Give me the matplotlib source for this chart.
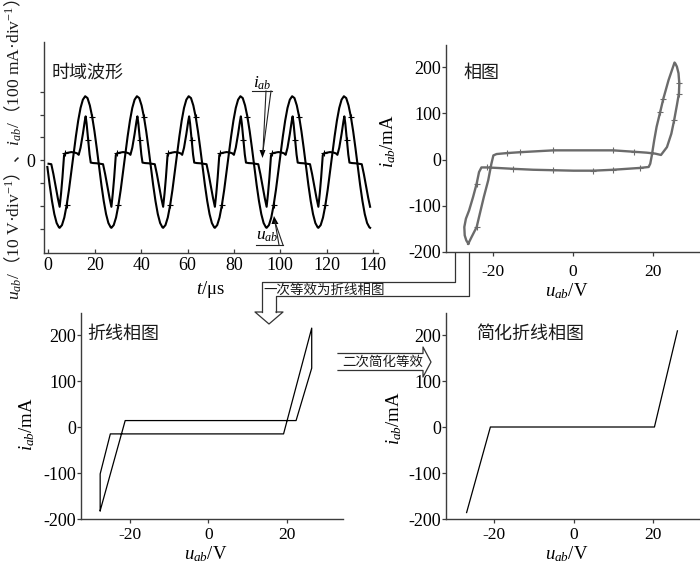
import numpy as np
import matplotlib
matplotlib.use("Agg")
import matplotlib.pyplot as plt

plt.rcParams['font.family'] = ['Liberation Serif', 'Noto Sans CJK SC']
plt.rcParams['mathtext.fontset'] = 'custom'
plt.rcParams['mathtext.rm'] = 'Liberation Serif'
plt.rcParams['mathtext.it'] = 'Liberation Serif:italic'
plt.rcParams['mathtext.bf'] = 'Liberation Serif:bold'
plt.rcParams['mathtext.sf'] = 'Noto Sans CJK SC'

CJK = ['Noto Sans CJK SC', 'DejaVu Sans']
SERIF = ['Liberation Serif', 'DejaVu Serif']

W, H = 700, 564

# ---------------- data ----------------
# One period of the oscilloscope traces, time measured from each u_ab minimum (us).
# Values are in divisions (u_ab: 10 V/div, i_ab: 100 mA/div).
cycle_tau_u = [0, 1, 2, 3, 4, 5, 6, 7, 8, 9, 10, 11, 12, 13, 14, 15, 16, 17, 18, 19, 20, 21, 22]
cycle_u = [-2.95, -2.83, -2.50, -1.97, -1.30, -0.53, 0.27, 1.05, 1.74, 2.29, 2.65, 2.80,
           2.72, 2.40, 1.91, 1.27, 0.52, -0.29, -1.08, -1.78, -2.35, -2.74, -2.93]
cycle_tau_i = [0.0, 0.6, 1.2, 1.9, 2.3, 3.5, 5.0, 6.5, 7.6, 8.2, 9.0, 10.0, 10.8, 11.2,
               11.6, 12.3, 12.9, 13.4, 14.5, 16.0, 17.5, 18.7, 19.6, 20.6, 21.5]
cycle_i = [-2.03, -1.45, -0.75, 0.22, 0.30, 0.33, 0.36, 0.34, 0.30, 0.24, 0.55, 1.15, 1.70, 1.92,
           1.62, 0.90, 0.25, -0.10, -0.12, -0.13, -0.15, -0.17, -0.60, -1.15, -1.65]
trough_times = [-17.4, 4.9, 27.2, 49.5, 71.8, 94.1, 116.4, 138.7]
t_first, t_last = -0.9, 138.8
u_marked_tau = [3, 14]
i_marked_tau = [2.3, 12.3]

time_ticks = [0, 20, 40, 60, 80, 100, 120, 140]
div_ticks = [-3, -2, -1, 0, 1, 2, 3]

# Measured phase loop (u_ab in V, i_ab in mA)
loop_u = [-26.3, -25.5, -24.2, -23.4, -22.4, -21.3, -20.5, -20.0, -19.2, -16.7, -13.3, -9.1,
          -4.9, 0.1, 5.1, 10.1, 15.2, 18.5, 20.6, 22.1, 23.6, 24.7, 25.4, 26.1, 26.6, 26.7,
          26.5, 26.1, 25.7, 25.5, 24.0, 22.7, 21.9, 21.0, 20.4, 19.8, 19.4, 19.0, 16.9, 13.5,
          10.1, 5.1, 0.1, -4.9, -10.0, -15.0, -19.2, -21.7, -23.0, -23.6, -24.2, -25.1,
          -26.1, -26.9, -27.3, -27.2, -26.8, -26.3]
loop_i = [-182, -168, -146, -117, -81, -45, -9, 9, 12, 14, 16, 18, 20, 20, 20, 20, 17, 15,
          13, 10, 27, 56, 85, 118, 143, 165, 187, 201, 208, 210, 172, 132, 103, 71, 42, 9,
          -9, -16, -18, -20, -22, -24, -24, -23, -22, -20, -18, -17, -17, -27, -52, -81,
          -110, -128, -146, -164, -175, -182]
loop_marked = [2, 9, 10, 12, 15, 16, 22, 24, 25, 31, 32, 38, 40, 41, 43, 45, 47, 50]

# Piecewise-linear equivalent loop
pw_u = [-27.7, -21.3, 22.4, 26.4, 26.4, 19.2, -25.1, -27.7, -27.7]
pw_i = [-182, 14, 14, 128, 215, -15, -15, -102, -182]

# Simplified piecewise-linear characteristic
simple_u = [-27.0, -21.0, 20.4, 26.2]
simple_i = [-186, 0, 0, 209]

i_ticks = [200, 100, 0, -100, -200]
i_tick_labels = ['200', '100', '0', '-100', '-200']
u_ticks = [-20, 0, 20]
u_tick_labels = ['-20', '0', '20']


def tile(tau, vals, marked):
    t, v, m = [], [], []
    for t0 in trough_times:
        for a, b in zip(tau, vals):
            tt = t0 + a
            if t_first <= tt <= t_last:
                t.append(tt)
                v.append(b)
                m.append(a in marked)
    return np.array(t), np.array(v), np.array(m)


fig = plt.figure(figsize=(7.0, 5.64), dpi=100)

SPINE = '#3c3c3c'
TICK_SIZE = 13


def panel(left, top, right, bottom):
    ax = fig.add_axes([left / W, 1 - bottom / H, (right - left) / W, (bottom - top) / H])
    ax.set_facecolor('none')
    for s in ['top', 'right']:
        ax.spines[s].set_visible(False)
    for s in ['left', 'bottom']:
        ax.spines[s].set_linewidth(1.0)
        ax.spines[s].set_color(SPINE)
    ax.tick_params(labelsize=TICK_SIZE, length=3, width=0.9, color=SPINE)
    return ax


def phase_axes(ax, xlim, ylim, xpad):
    ax.set_xlim(*xlim)
    ax.set_ylim(*ylim)
    ax.set_xticks(u_ticks)
    ax.set_xticklabels(u_tick_labels, family=SERIF)
    ax.set_yticks(i_ticks)
    ax.set_yticklabels(i_tick_labels, family=SERIF)
    ax.tick_params(axis='x', direction='out', pad=xpad, labelsize=12.5)
    ax.tick_params(axis='y', direction='out', pad=0.5)


# ---- time-domain waveforms ----
ax1 = panel(44, 42, 378, 253)
tu, uu, mu = tile(cycle_tau_u, cycle_u, u_marked_tau)
ti, ii, mi = tile(cycle_tau_i, cycle_i, i_marked_tau)
ax1.plot(tu, uu, color='black', lw=1.5, solid_joinstyle='round')
ax1.plot(ti, ii, color='black', lw=1.5, solid_joinstyle='round')
ax1.plot(tu[mu], uu[mu], ls='none', marker='+', ms=4.5, mew=0.8, color='black')
ax1.plot(ti[mi], ii[mi], ls='none', marker='+', ms=4.5, mew=0.8, color='black')
ax1.set_xlim(-1.85, 142.1)
ax1.set_ylim(-4.05, 5.17)
ax1.set_xticks(time_ticks)
ax1.set_xticklabels([str(v) for v in time_ticks], family=SERIF)
ax1.set_yticks(div_ticks)
ax1.set_yticklabels(['0' if v == 0 else '' for v in div_ticks], family=SERIF)
ax1.tick_params(axis='x', direction='in', length=3, pad=3)
ax1.tick_params(axis='y', direction='out', length=3, pad=3.5)

# ---- measured phase loop ----
ax2 = panel(446, 45, 700, 252)
ax2.plot(loop_u, loop_i, color='#6b6b6b', lw=1.7, marker='+', ms=4.5, mew=0.8,
         markevery=loop_marked, solid_joinstyle='round')
phase_axes(ax2, (-31.9, 31.9), (-200, 248), 6)

# ---- piecewise-linear loop ----
ax3 = panel(81, 312.7, 343, 519)
ax3.plot(pw_u, pw_i, color='black', lw=0.9)
phase_axes(ax3, (-32.6, 34.4), (-200, 248.5), 2.5)

# ---- simplified characteristic ----
ax4 = panel(446, 312.7, 700, 519)
ax4.plot(simple_u, simple_i, color='black', lw=0.9)
phase_axes(ax4, (-32.2, 31.9), (-200, 248.5), 2.5)

# ---- overlay in pixel coordinates for labels and arrows ----
ov = fig.add_axes([0, 0, 1, 1])
ov.set_xlim(0, W)
ov.set_ylim(H, 0)
ov.axis('off')
ov.set_zorder(5)

title_kw = dict(family=CJK, fontsize=13, ha='left', va='center', color='#1a1a1a')
ov.text(52, 72.5, '时域波形', **title_kw)
ov.text(463, 72.5, '相图', **title_kw)
ov.text(87, 334, '折线相图', **title_kw)
ov.text(476, 333.5, '简化折线相图', **title_kw)

lab_kw = dict(family=SERIF, fontsize=13.5, ha='center', va='center')
ov.text(211, 289, '$t$/μs', **lab_kw)
ov.text(567, 291, '$u_{ab}$/V', **lab_kw)
ov.text(206, 559, '$u_{ab}$/V', family=SERIF, fontsize=13.5, ha='center', va='baseline')
ov.text(567, 559, '$u_{ab}$/V', family=SERIF, fontsize=13.5, ha='center', va='baseline')
ov.text(388, 141, '$i_{ab}$/mA', rotation=90, **lab_kw)
ov.text(27, 424, '$i_{ab}$/mA', rotation=90, **lab_kw)
ov.text(394, 418, '$i_{ab}$/mA', rotation=90, **lab_kw)

# callouts naming the two traces
LK = dict(color='#222222', lw=0.8)
ov.text(262, 83, '$i_{ab}$', family=SERIF, fontsize=12.5, ha='center', va='center')
ov.plot([252, 272], [91, 91], **LK)
ov.plot([266, 263], [91, 151], **LK)
ov.plot([271, 263], [91, 151], **LK)
ov.fill([259.5, 265.5, 262.5], [150, 150, 158], color='black', lw=0)

ov.text(267, 236, '$u_{ab}$', family=SERIF, fontsize=12.5, ha='center', va='center')
ov.plot([256, 283], [245, 245], **LK)
ov.plot([279, 275], [245, 222], **LK)
ov.plot([283, 275], [245, 222], **LK)
ov.fill([271.5, 278.5, 274], [224, 224, 216], color='black', lw=0)

# hollow bent arrow: measured loop -> piecewise-linear loop
AK = dict(color='#333333', lw=0.9)
ov.plot([455, 455, 262, 262], [253, 282, 282, 312], **AK)
ov.plot([469, 469, 276, 276], [253, 296, 296, 312], **AK)
ov.plot([262, 255, 269, 283, 276], [312, 312, 324, 312, 312], **AK)
ov.text(263, 289.5, '一次等效为折线相图', family=CJK, fontsize=9.7, ha='left', va='center',
        color='#1a1a1a')

# hollow straight arrow: piecewise-linear -> simplified
ov.plot([338, 423, 423, 431, 423, 423, 338], [353.5, 353.5, 347, 362, 377, 370.5, 370.5], **AK)
ov.text(342, 362, '二次简化等效', family=CJK, fontsize=9.7, ha='left', va='center',
        color='#1a1a1a')

# ---- vertical label of the time-domain panel (CJK punctuation via the sf slot) ----
ylabel_1 = (r'$u_{ab}\mathrm{/}\mathsf{（}\mathrm{10\ V·div}^{-1}\mathsf{）、}'
            r'i_{ab}\mathrm{/}\mathsf{（}\mathrm{100\ mA·div}^{-1}\mathsf{）}$')
ov.text(13, 150, ylabel_1, rotation=90, rotation_mode='anchor', ha='center', va='center',
        family=SERIF, fontsize=12.6, color='#1a1a1a')

fig.savefig('out.png', dpi=100)
